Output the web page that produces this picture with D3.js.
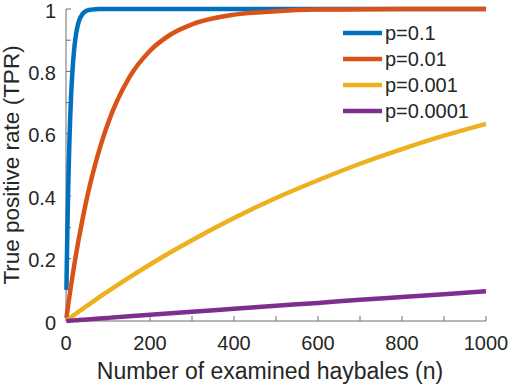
<!DOCTYPE html>
<html>
<head>
<meta charset="utf-8">
<script src="https://cdn.jsdelivr.net/npm/d3@7"></script>
<style>
  html, body { margin: 0; padding: 0; background: #fff; }
  svg { display: block; font-family: "Liberation Sans", Arial, sans-serif; }
</style>
</head>
<body>
<svg id="chart" width="510" height="387"></svg>
<script>
// ---- Data ----
const nValues = [1, 2, 3, 4, 5, 6, 8, 10, 12, 15, 20, 25, 30, 40, 50, 60, 80, 100, 150, 200, 250, 300, 400, 500, 600, 700, 800, 900, 1000];
const tprP1    = [0.1, 0.19, 0.271, 0.344, 0.41, 0.469, 0.57, 0.651, 0.718, 0.794, 0.878, 0.928, 0.958, 0.985, 0.995, 0.998, 1, 1, 1, 1, 1, 1, 1, 1, 1, 1, 1, 1, 1];
const tprP01   = [0.01, 0.02, 0.03, 0.039, 0.049, 0.059, 0.077, 0.096, 0.114, 0.14, 0.182, 0.222, 0.26, 0.331, 0.395, 0.453, 0.552, 0.634, 0.779, 0.866, 0.919, 0.951, 0.982, 0.993, 0.998, 0.999, 1, 1, 1];
const tprP001  = [0.001, 0.002, 0.003, 0.004, 0.005, 0.006, 0.008, 0.01, 0.012, 0.015, 0.02, 0.025, 0.03, 0.039, 0.049, 0.058, 0.077, 0.095, 0.139, 0.181, 0.221, 0.259, 0.33, 0.394, 0.451, 0.504, 0.551, 0.594, 0.632];
const tprP0001 = [0.0001, 0.0002, 0.0003, 0.0004, 0.0005, 0.0006, 0.0008, 0.001, 0.0012, 0.0015, 0.002, 0.0025, 0.003, 0.004, 0.005, 0.006, 0.008, 0.01, 0.015, 0.02, 0.025, 0.03, 0.039, 0.049, 0.058, 0.068, 0.077, 0.086, 0.095];
const seriesNames = ["p=0.1", "p=0.01", "p=0.001", "p=0.0001"];
const seriesValues = [tprP1, tprP01, tprP001, tprP0001];
const colors = ["#0072BD", "#D95319", "#EDB120", "#7E2F8E"];
const xTickValues = [0, 200, 400, 600, 800, 1000];
const xMinorTicks = [0, 100, 200, 300, 400, 500, 600, 700, 800, 900, 1000];
const yTickValues = [0, 0.2, 0.4, 0.6, 0.8, 1];
const yMinorTicks = [0, 0.1, 0.2, 0.3, 0.4, 0.5, 0.6, 0.7, 0.8, 0.9, 1];
const xLabel = "Number of examined haybales (n)";
const yLabel = "True positive rate (TPR)";

// ---- Layout ----
const svg = d3.select("#chart");
const mLeft = 66, mRight = 486, mTop = 9, mBottom = 321;
const x = d3.scaleLinear().domain([0, 1000]).range([mLeft, mRight]);
const y = d3.scaleLinear().domain([0, 1]).range([mBottom, mTop]);
const axisColor = "#6e6e6e";
const textColor = "#262626";
const tickLen = 5;

const line = d3.line()
  .x((d, i) => x(nValues[i]))
  .y(d => y(d))
  .curve(d3.curveMonotoneX);

// Axes lines and ticks
const g = svg.append("g");
g.append("line").attr("x1", mLeft).attr("x2", mRight).attr("y1", mBottom).attr("y2", mBottom)
  .attr("stroke", axisColor).attr("stroke-width", 1);
g.append("line").attr("x1", mLeft).attr("x2", mLeft).attr("y1", mTop).attr("y2", mBottom)
  .attr("stroke", axisColor).attr("stroke-width", 1);

g.selectAll(".xt").data(xMinorTicks).enter().append("line")
  .attr("x1", d => x(d)).attr("x2", d => x(d))
  .attr("y1", mBottom).attr("y2", mBottom - tickLen)
  .attr("stroke", axisColor).attr("stroke-width", 1);
g.selectAll(".yt").data(yMinorTicks).enter().append("line")
  .attr("x1", mLeft).attr("x2", mLeft + tickLen)
  .attr("y1", d => y(d)).attr("y2", d => y(d))
  .attr("stroke", axisColor).attr("stroke-width", 1);

// Tick labels
g.selectAll(".xl").data(xTickValues).enter().append("text")
  .attr("x", d => x(d)).attr("y", 350)
  .attr("text-anchor", "middle")
  .attr("font-size", 20).attr("fill", textColor)
  .text(d => d);
g.selectAll(".yl").data(yTickValues).enter().append("text")
  .attr("x", 56).attr("y", d => y(d) + 8.5)
  .attr("text-anchor", "end")
  .attr("font-size", 20).attr("fill", textColor)
  .text(d => d);

// Axis labels
svg.append("text")
  .attr("x", 270).attr("y", 379)
  .attr("text-anchor", "middle")
  .attr("font-size", 23).attr("fill", textColor)
  .text(xLabel);
svg.append("text")
  .attr("transform", `translate(19, ${(mTop + mBottom) / 2}) rotate(-90)`)
  .attr("text-anchor", "middle")
  .attr("font-size", 22.5).attr("fill", textColor)
  .text(yLabel);

// Series
seriesValues.forEach((vals, i) => {
  svg.append("path")
    .datum(vals)
    .attr("d", line)
    .attr("fill", "none")
    .attr("stroke", colors[i])
    .attr("stroke-width", 4.5)
    .attr("stroke-linejoin", "round");
});

// Legend
const legend = svg.append("g");
seriesNames.forEach((name, i) => {
  const ly = 33 + i * 26;
  legend.append("line")
    .attr("x1", 343).attr("x2", 382).attr("y1", ly).attr("y2", ly)
    .attr("stroke", colors[i]).attr("stroke-width", 4.5);
  legend.append("text")
    .attr("x", 385).attr("y", ly + 7)
    .attr("font-size", 20).attr("fill", textColor)
    .text(name);
});
</script>
</body>
</html>
